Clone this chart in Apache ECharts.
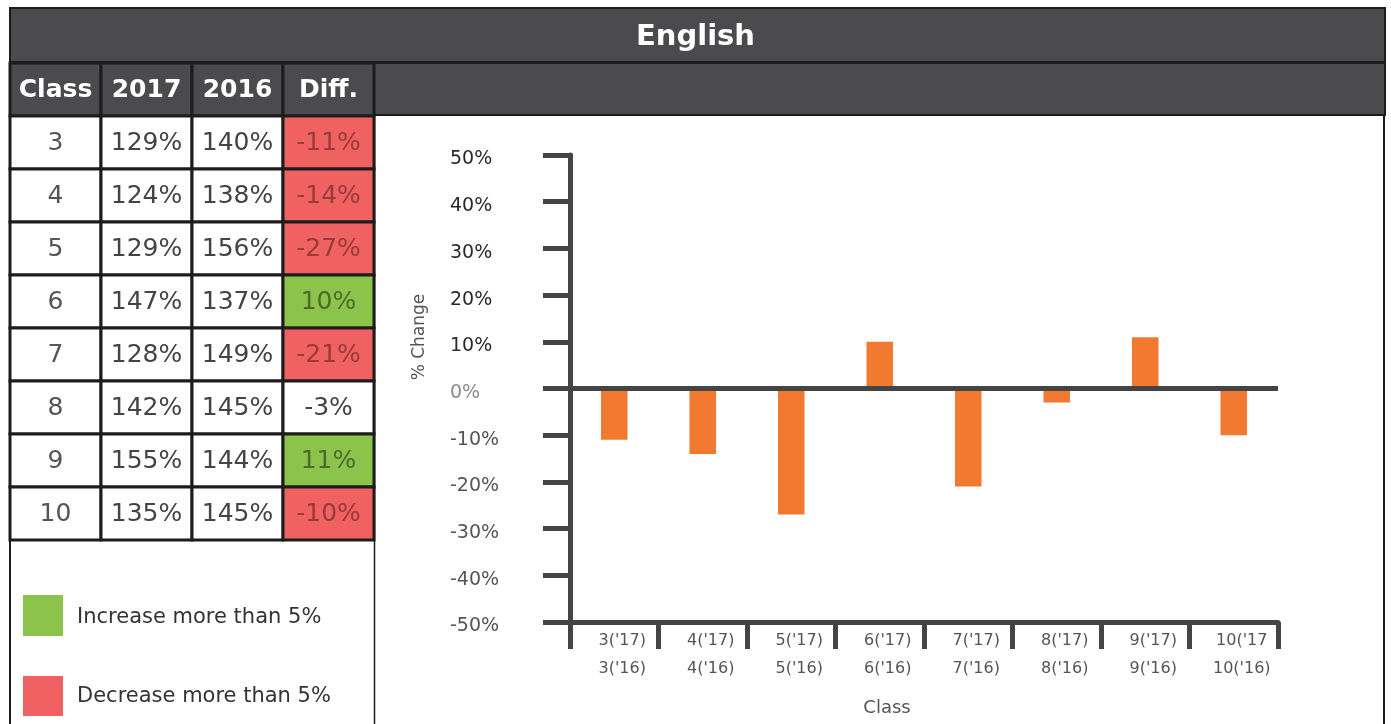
<!DOCTYPE html>
<html><head><meta charset="utf-8">
<script src="https://cdn.jsdelivr.net/npm/echarts@6/dist/echarts.min.js"></script>
<style>html,body{margin:0;padding:0;background:#fff}#c{width:1391px;height:724px}</style>
</head><body><div id="c"></div>
<script>
const chartTitle = 'English';
const columns = ['Class', '2017', '2016', 'Diff.'];
const classes = ['3', '4', '5', '6', '7', '8', '9', '10'];
const pct2017 = [129, 124, 129, 147, 128, 142, 155, 135];
const pct2016 = [140, 138, 156, 137, 149, 145, 144, 145];
const diff = [-11, -14, -27, 10, -21, -3, 11, -10];
const xTickLabels = ["3('17)\n3('16)", "4('17)\n4('16)", "5('17)\n5('16)", "6('17)\n6('16)",
                     "7('17)\n7('16)", "8('17)\n8('16)", "9('17)\n9('16)", "10('17\n10('16)"];
const yAxisTitle = '% Change';
const xAxisTitle = 'Class';
const legendLabels = ['Increase more than 5%', 'Decrease more than 5%'];

const FONT = 'DejaVu Sans';
const DARK = '#4b4b4e';
const BORDER = '#1c1c1c';
const GREEN = '#8cc34b';
const RED = '#f06262';
const ORANGE = '#f27a30';

// Build table cells (header row + body rows)
const cells = [];
columns.forEach((name, ci) => {
  cells.push({ value: [ci, 0], text: name, fill: DARK, color: '#ffffff', bold: true });
});
classes.forEach((cls, ri) => {
  const d = diff[ri];
  const fill = d > 5 ? GREEN : (d < -5 ? RED : '#ffffff');
  const dColor = d > 5 ? '#4d6a2a' : (d < -5 ? '#9a3a3a' : '#444444');
  const row = ri + 1;
  cells.push({ value: [0, row], text: cls, fill: '#ffffff', color: '#555555' });
  cells.push({ value: [1, row], text: pct2017[ri] + '%', fill: '#ffffff', color: '#444444' });
  cells.push({ value: [2, row], text: pct2016[ri] + '%', fill: '#ffffff', color: '#444444' });
  cells.push({ value: [3, row], text: d + '%', fill: fill, color: dColor });
});

function yLabelColor(v) { v = Number(v); return v > 0 ? '#2a2a2a' : (v === 0 ? '#8a8a8a' : '#555555'); }

const chart = echarts.init(document.getElementById('c'), null, { renderer: 'canvas' });
chart.setOption({
  animation: false,
  backgroundColor: '#ffffff',
  title: {
    text: chartTitle, left: 'center', top: 18,
    textStyle: { color: '#ffffff', fontFamily: FONT, fontWeight: 'bold', fontSize: 29 }
  },
  graphic: [
    { type: 'rect', z: 0, shape: { x: 10, y: 8, width: 1375, height: 54 },
      style: { fill: DARK, stroke: BORDER, lineWidth: 2 } },
    { type: 'rect', z: 0, shape: { x: 374, y: 63, width: 1011, height: 52 },
      style: { fill: DARK, stroke: BORDER, lineWidth: 2 } },
    { type: 'line', z: 0, shape: { x1: 10, y1: 540, x2: 10, y2: 724 },
      style: { stroke: BORDER, lineWidth: 2 } },
    { type: 'line', z: 0, shape: { x1: 374.5, y1: 115, x2: 374.5, y2: 724 },
      style: { stroke: BORDER, lineWidth: 1.5 } },
    { type: 'line', z: 0, shape: { x1: 1384, y1: 115, x2: 1384, y2: 724 },
      style: { stroke: BORDER, lineWidth: 2 } },
    { type: 'rect', shape: { x: 23, y: 595, width: 40, height: 41 }, style: { fill: GREEN } },
    { type: 'text', x: 77, y: 618, style: { text: legendLabels[0], fill: '#333333',
      font: '21px "DejaVu Sans"', verticalAlign: 'middle', align: 'left' } },
    { type: 'rect', shape: { x: 23, y: 676, width: 40, height: 40 }, style: { fill: RED } },
    { type: 'text', x: 77, y: 697, style: { text: legendLabels[1], fill: '#333333',
      font: '21px "DejaVu Sans"', verticalAlign: 'middle', align: 'left' } },
    { type: 'text', x: 420, y: 337, rotation: Math.PI / 2, style: { text: yAxisTitle, fill: '#555555',
      font: '17px "DejaVu Sans"', align: 'center', verticalAlign: 'middle' } },
    { type: 'text', x: 887, y: 708, style: { text: xAxisTitle, fill: '#555555',
      font: '18px "DejaVu Sans"', align: 'center', verticalAlign: 'middle' } }
  ],
  grid: [
    { left: 10, top: 63, width: 364, height: 477 },
    { left: 570, right: 113, top: 155, bottom: 102 }
  ],
  xAxis: [
    { gridIndex: 0, type: 'category', data: columns, show: false },
    { gridIndex: 1, type: 'category', data: xTickLabels, boundaryGap: true, position: 'bottom',
      axisLine: { show: true, onZero: false, lineStyle: { color: '#444444', width: 5 } },
      axisTick: { show: true, interval: 0, length: 27, lineStyle: { color: '#444444', width: 5 } },
      axisLabel: { interval: 0, fontFamily: FONT, fontSize: 16, lineHeight: 28, color: '#555555',
        margin: 5, padding: [0, 0, 0, 16] },
      splitLine: { show: false } }
  ],
  yAxis: [
    { gridIndex: 0, type: 'category', data: ['header'].concat(classes), inverse: true, show: false },
    { gridIndex: 1, type: 'value', min: -50, max: 50, interval: 10,
      axisLine: { show: true, lineStyle: { color: '#444444', width: 5 } },
      axisTick: { show: true, length: 27, lineStyle: { color: '#444444', width: 5 } },
      axisLabel: { formatter: '{a|{value}%}', margin: 120, align: 'left', color: yLabelColor,
        rich: { a: { fontFamily: FONT, fontSize: 19, padding: [9, 0, 0, 0] } } },
      splitLine: { show: false } }
  ],
  series: [
    {
      type: 'custom', xAxisIndex: 0, yAxisIndex: 0, z: 5,
      data: cells.map(c => c.value),
      renderItem: function (params, api) {
        const info = cells[params.dataIndex];
        const p = api.coord([api.value(0), api.value(1)]);
        const s = api.size([1, 1]);
        return {
          type: 'group',
          children: [
            { type: 'rect', shape: { x: p[0] - s[0] / 2, y: p[1] - s[1] / 2, width: s[0], height: s[1] },
              style: { fill: info.fill, stroke: BORDER, lineWidth: 3 } },
            { type: 'text', x: p[0], y: p[1] + 1,
              style: { text: info.text, fill: info.color, align: 'center', verticalAlign: 'middle',
                font: (info.bold ? 'bold ' : '') + '25px "DejaVu Sans"' } }
          ]
        };
      }
    },
    {
      type: 'bar', xAxisIndex: 1, yAxisIndex: 1, data: diff, barWidth: '30%',
      itemStyle: { color: ORANGE },
      markLine: {
        silent: true, symbol: ['none', 'none'], label: { show: false },
        lineStyle: { color: '#444444', width: 5, type: 'solid' },
        data: [{ yAxis: 0 }]
      }
    }
  ]
});
</script></body></html>
